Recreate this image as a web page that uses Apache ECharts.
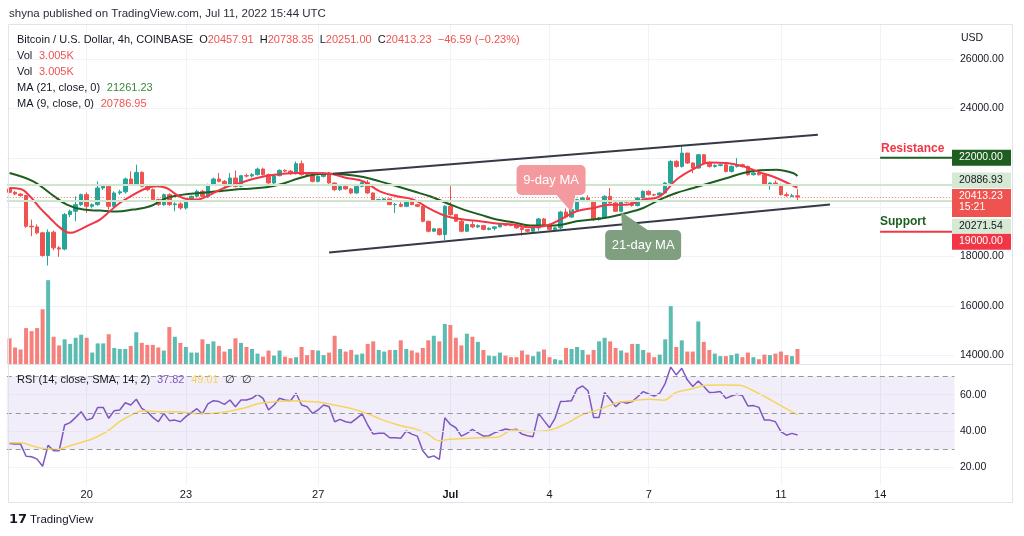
<!DOCTYPE html>
<html><head><meta charset="utf-8">
<script src="https://cdn.jsdelivr.net/npm/echarts@6/dist/echarts.min.js"></script>
<style>html,body{margin:0;padding:0;background:#fff}#c{width:1024px;height:536px}</style>
</head><body><div id="c"></div>
<script>
// ---------- DATA ----------
const startTime = Date.UTC(2022, 5, 17, 16); // first 4h candle
const NCAT = 172;
const opens = [20735,20600,20530,20470,19226,19200,18957,18041,18984,18350,
18300,19697,19832,20101,20506,20034,20100,20775,20842,20034,
20573,20620,21139,20937,21408,20842,20708,20304,20101,20506,
20101,20130,19967,20236,20438,20640,20438,20910,21139,21044,
20869,21179,20842,21273,21260,21314,21540,21314,20977,21273,
21490,21460,21354,21758,21314,21300,21044,21246,21381,20977,
20708,20842,20735,20573,20842,20990,20573,20236,20280,20330,
20101,20110,20034,20236,20101,20034,19428,19024,19120,18889,
20034,19697,19428,19024,19293,19200,19250,19100,19140,19200,
19293,19270,19260,19159,19091,19024,19159,19520,19293,19100,
19159,19800,19600,19899,20303,20371,20236,19495,19563,20438,
20169,19832,20236,20200,20061,20371,20640,20505,20490,20573,
20977,21852,21650,22189,21785,21583,22122,21785,21650,21690,
21718,21448,21650,21718,21650,21313,21381,21313,20909,20977,
20909,20505,20430,20457.91];
const highs = [20790,20650,20560,20500,19495,19300,19000,19100,19050,18420,
19765,19900,20438,20550,20600,20150,21044,20900,20880,20640,
20700,21200,21448,21718,21450,20900,20760,20350,20550,20560,
20200,20200,20280,20470,20700,20700,20950,21200,21381,21100,
21381,21480,21300,21350,21380,21600,21600,21360,21300,21530,
21530,21500,21850,21890,21420,21400,21280,21420,21420,21000,
20900,20880,20780,20880,21020,21100,20600,20340,20370,20350,
20169,20200,20260,20300,20130,20080,19450,19160,19150,20080,
20910,19720,19500,19330,19430,19300,19280,19180,19230,19330,
19320,19320,19280,19200,19110,19190,19560,19560,19330,19200,
19850,19950,19950,20340,20420,20480,20270,19600,20480,20775,
20200,20270,20280,20230,20400,20680,20680,20540,20600,21010,
21900,21900,22459,22200,21820,22160,22150,21852,21730,21760,
21760,21690,21987,21760,21680,21420,21460,21340,21010,21080,
20950,20600,20540,20738.35];
const lows = [20560,20480,20420,19160,18822,18900,17990,17636,18250,17987,
18250,19600,19428,20050,19765,19950,20050,20700,19899,19967,
20500,20550,20880,20900,20800,20650,20250,20050,20050,20050,
19832,19900,19900,20200,20400,20400,20371,20880,21000,20820,
20820,20800,20800,21200,21200,21280,21280,20950,20920,21250,
21420,21320,21320,21280,21280,21000,21000,21200,20950,20650,
20650,20700,20520,20540,20800,20540,20200,20200,20240,20080,
19765,20000,20000,20080,20000,19380,18980,18990,18850,18660,
19650,19400,18980,18990,19150,19150,19060,19060,19060,19180,
19230,19220,19120,18850,18980,18990,19050,19250,19050,19050,
19100,19550,19560,19850,20200,20200,19450,19450,19530,20120,
19800,19800,20150,20020,20030,20340,20470,20450,20450,20540,
20940,21600,21600,21750,21381,21550,21750,21600,21600,21650,
21400,21400,21600,21600,21280,21280,21280,20870,20707,20870,
20470,20420,20420,20251.00];
const closes = [20600,20530,20470,19226,19200,18957,18041,18984,18350,18300,
19697,19832,20101,20506,20034,20100,20775,20842,20034,20573,
20620,21139,20937,21408,20842,20708,20304,20101,20506,20101,
20130,19967,20236,20438,20640,20438,20910,21139,21044,20869,
21179,20842,21273,21260,21314,21540,21314,20977,21273,21490,
21460,21354,21758,21314,21300,21044,21246,21381,20977,20708,
20842,20735,20573,20842,20990,20573,20236,20304,20330,20101,
20110,20034,20236,20101,20034,19428,19024,19120,18889,20034,
19697,19428,19024,19293,19200,19250,19100,19140,19200,19293,
19270,19260,19159,19091,19024,19159,19520,19293,19100,19159,
19800,19600,19899,20303,20371,20236,19495,19563,20438,20169,
19832,20236,20200,20061,20371,20640,20505,20490,20573,20977,
21852,21650,22189,21785,21583,22122,21785,21650,21690,21718,
21448,21650,21718,21650,21313,21381,21313,20909,20977,20909,
20505,20465,20459.82,20413.23];
const volumesK = [5.1,3.3,2.9,7.1,6.5,7.1,10.8,16.5,5.4,3.7,
4.9,4.0,5.2,5.8,5.2,2.3,4.1,4.1,5.9,3.2,
3.0,3.0,3.6,6.3,4.2,3.8,3.8,3.3,2.7,7.3,
5.4,4.2,3.4,2.3,2.3,4.9,4.0,4.5,3.6,2.5,
3.0,5.1,4.2,3.4,3.0,2.1,1.5,2.7,1.7,2.7,
1.5,1.2,1.4,3.4,1.8,2.8,2.7,1.8,2.3,5.6,
3.0,2.5,2.8,1.9,2.1,4.0,4.5,2.8,2.5,2.8,
2.8,4.7,3.0,2.7,2.3,3.2,4.7,5.6,4.5,7.9,
7.7,5.2,3.7,6.0,5.4,4.4,2.8,1.7,1.6,2.3,
1.7,1.4,1.4,2.7,1.9,1.6,2.5,2.9,1.4,1.0,
0.8,3.2,3.0,3.4,2.8,1.9,2.8,4.5,5.2,4.5,
3.2,2.7,2.3,4.0,4.0,2.8,2.3,1.4,1.9,4.9,
11.4,3.4,4.7,2.5,2.5,8.4,4.4,2.8,2.1,1.6,
1.6,1.8,2.1,1.4,2.3,1.4,1.0,1.9,1.8,2.1,
2.5,1.8,1.6,3.005];
const ma9 = [[0,20775],[2,20735],[3.7,20438],[5.5,19967],[7.3,19563],[9.2,19159],[11,18957],[12.8,19091],[14.6,19293],[16.4,19495],[18.2,19832],[20,20169],[22.5,20506],[24.9,20775],[26.7,20842],[28.5,20775],[30.3,20506],[32.1,20330],[33.9,20304],[35.8,20438],[37.6,20640],[39.4,20815],[41.8,20977],[44.2,21139],[46.7,21273],[49.1,21340],[52,21381],[55.1,21381],[58.1,21354],[61.2,21179],[64.2,21044],[67.2,20640],[70.3,20438],[73.3,20304],[76.3,19926],[79.3,19630],[82.4,19495],[85.4,19428],[88.4,19334],[91.4,19293],[94.5,19186],[97.5,19253],[100,19500],[102.9,19832],[105.9,19966],[109,20101],[112,20101],[115,20303],[118,20438],[121,21112],[124.1,21543],[127.1,21812],[130.2,21785],[133.2,21650],[136.2,21408],[139.2,21179],[142.2,20869],[143,20786.95]];
const ma21 = [[0,21381],[4.3,21044],[7.3,20573],[10.4,20101],[13.4,19900],[16.4,19859],[19.4,19819],[22.4,19900],[25.5,20034],[28.5,20371],[31.5,20506],[34.6,20573],[37.6,20640],[40.6,20708],[43.6,20748],[46.6,20802],[49.4,20940],[52.4,21160],[55.1,21314],[58.1,21354],[61.2,21314],[64.2,21219],[67.2,21044],[70.3,20843],[73.3,20640],[76.3,20438],[79.3,20169],[82.4,19900],[85.4,19697],[88.4,19495],[91.4,19388],[94.5,19253],[97.5,19253],[100.2,19290],[102.9,19428],[105.9,19495],[109,19603],[112,19764],[115,19966],[118,20303],[121,20573],[124.1,20775],[127.1,20977],[130.2,21179],[133.2,21381],[136.2,21489],[139.2,21516],[142.2,21381],[143,21261.23]];
const rsi = [33.1,32.8,32.8,26.1,25.8,24.5,20.6,32.2,29.1,29.1,
43.3,44.6,47.5,50.6,46.0,47.0,53.0,53.0,47.0,51.2,
51.6,55.6,54.3,57.5,52.5,50.6,47.5,45.1,49.7,45.7,
46.0,45.1,47.9,50.1,52.3,49.4,54.9,56.7,56.2,54.7,
57.1,53.4,57.1,57.1,58.0,60.2,58.0,51.6,54.3,58.0,
57.1,56.7,60.8,54.3,53.4,49.7,51.6,54.3,53.4,45.1,
46.4,45.1,44.6,47.0,49.4,43.3,38.3,38.7,38.7,36.3,
36.3,36.0,40.0,38.3,37.2,29.1,25.4,26.3,24.3,47.3,
43.6,41.8,37.2,38.7,40.9,39.0,37.2,37.4,39.0,40.0,
41.1,40.5,40.9,38.3,37.4,36.8,49.7,45.7,41.8,47.0,
56.2,56.4,56.7,63.2,64.8,62.1,47.5,47.5,61.2,57.5,
53.4,56.2,55.3,56.2,58.9,61.7,60.4,59.3,60.8,66.3,
75.2,70.9,74.6,68.2,64.5,67.6,64.5,61.2,61.3,61.7,
58.0,59.3,60.2,59.5,53.8,54.0,53.0,46.0,46.0,45.1,
39.6,37.7,38.7,37.82];
const rsiSma = [[0,33.5],[2,33.5],[4.3,31.7],[6.1,30.4],[8.6,29.8],[10.4,31.3],[13.4,34.1],[15.2,35.9],[17.6,39.6],[20,45.1],[22.5,49.4],[24.3,51.2],[27.3,50.6],[30.3,50.6],[33.4,49.7],[36.4,49.7],[39.4,50.6],[42.4,52.5],[45.5,55.3],[48.5,56.2],[51.5,56.7],[54.5,56.2],[56.9,55.6],[58.8,54.3],[61.8,52.5],[64.8,49.7],[67.8,46.0],[70.9,43.0],[73.9,40.9],[75.7,38.7],[78.1,34.6],[79.9,35.5],[83,35.9],[86,36.3],[88.4,36.5],[91.4,40.5],[94.5,39.6],[98.1,40.5],[101.1,44.2],[104.1,49.2],[107.1,51.9],[110.2,55.6],[113.2,56.7],[116.2,57.5],[118.7,57.0],[121,61.3],[123.5,63.0],[126.5,65.2],[129.5,65.4],[132.5,65.2],[134.9,62.3],[137.3,58.6],[139.8,54.3],[143,49.01]];
const upperTrend = [[58.7,21354],[146.7,22930]];
const lowerTrend = [[58.0,18162],[148.9,20102]];
const resistanceLevel = 22000, supportLevel = 19000;
const lineLevels = [20886.93, 20271.54];
const tickIndex = [14,32,56,80,98,116,140,158];
const tickText = ['20','23','27','Jul','4','7','11','14'];

// ---------- CHART ----------
const FONT = '"Liberation Sans", Arial, sans-serif';
const TEAL = '#26a69a', RED = '#ef5350';
const cats = [];
for (let i = 0; i < NCAT; i++) {
  const d = new Date(startTime + i * 4 * 3600e3);
  cats.push(d.toISOString().slice(0, 16).replace('T', ' '));
}
const last = opens.length - 1;
const L = 6.8, R = 1024 - 954.5;
const xv = g => ({type: 'value', gridIndex: g, min: -0.5, max: NCAT - 0.5, show: false});

const chart = echarts.init(document.getElementById('c'));
chart.setOption({
  animation: false,
  backgroundColor: '#ffffff',
  textStyle: {fontFamily: FONT},
  grid: [
    {left: L, right: R, top: 59, bottom: 536 - 355.25},
    {left: L, right: R, top: 262.3, bottom: 536 - 364.3},
    {left: L, right: R, top: 358.4, bottom: 536 - 503.6},
    {left: 9.56, right: 1024 - 951.8, top: 25, bottom: 51}
  ],
  xAxis: [
    {type: 'category', gridIndex: 0, data: cats, show: false, boundaryGap: true},
    {type: 'category', gridIndex: 1, data: cats, show: false, boundaryGap: true},
    xv(2),
    {type: 'category', gridIndex: 3, data: cats, boundaryGap: false,
      axisLine: {show: false}, axisTick: {show: false},
      splitLine: {show: true, interval: (i) => tickIndex.includes(i), lineStyle: {color: '#eff2f8', width: 1}},
      axisLabel: {interval: (i) => tickIndex.includes(i), margin: 4, color: '#131722', fontSize: 11, fontFamily: FONT,
        formatter: (v, i) => { const k = tickIndex.indexOf(i); if (k < 0) return ''; return tickText[k] === 'Jul' ? '{b|Jul}' : tickText[k]; },
        rich: {b: {fontWeight: 'bold', fontSize: 11, color: '#131722', fontFamily: FONT}}}},
    xv(0)
  ],
  yAxis: [
    {type: 'value', gridIndex: 0, min: 14000, max: 26000, interval: 2000, position: 'right',
      axisLine: {show: false}, axisTick: {show: false},
      splitLine: {lineStyle: {color: '#eff2f8'}},
      axisLabel: {formatter: v => v.toFixed(2), color: '#131722', fontSize: 10.5, margin: 5.5, fontFamily: FONT}},
    {type: 'value', gridIndex: 1, min: 0, max: 20, show: false},
    {type: 'value', gridIndex: 2, min: 0, max: 80, interval: 20, position: 'right',
      axisLine: {show: false}, axisTick: {show: false}, splitLine: {show: false},
      axisLabel: {formatter: v => (v > 0 && v < 80) ? v.toFixed(2) : '', color: '#131722', fontSize: 10.5, margin: 5.5, fontFamily: FONT}},
    {type: 'value', gridIndex: 3, show: false}
  ],
  series: [
    {type: 'bar', xAxisIndex: 1, yAxisIndex: 1, barWidth: 4, silent: true,
      data: volumesK.map((v, i) => ({value: v, itemStyle: {color: closes[i] >= opens[i] ? '#5cbcb1' : '#f5807c'}}))},
    {type: 'candlestick', xAxisIndex: 0, yAxisIndex: 0, barWidth: 4, silent: true,
      data: opens.map((o, i) => [o, closes[i], lows[i], highs[i]]),
      itemStyle: {color: TEAL, color0: RED, borderColor: TEAL, borderColor0: RED, borderWidth: 1},
      markLine: {silent: true, symbol: 'none', label: {show: false}, animation: false,
        data: [
          {yAxis: lineLevels[0], lineStyle: {color: '#cfe6cd', width: 2, type: 'solid'}},
          {yAxis: lineLevels[1], lineStyle: {color: '#cfe6cd', width: 2, type: 'solid'}},
          {yAxis: closes[last], lineStyle: {color: RED, width: 1, type: [1, 2], opacity: 0.8}}
        ]}},
    {type: 'line', xAxisIndex: 4, yAxisIndex: 0, data: ma21, smooth: 0.4, showSymbol: false, silent: true,
      lineStyle: {color: '#1e5e20', width: 2}},
    {type: 'line', xAxisIndex: 4, yAxisIndex: 0, data: ma9, smooth: 0.4, showSymbol: false, silent: true,
      lineStyle: {color: '#f23645', width: 2}},
    {type: 'line', xAxisIndex: 4, yAxisIndex: 0, data: upperTrend, showSymbol: false, silent: true, clip: false,
      lineStyle: {color: '#363a45', width: 2}},
    {type: 'line', xAxisIndex: 4, yAxisIndex: 0, data: lowerTrend, showSymbol: false, silent: true, clip: false,
      lineStyle: {color: '#363a45', width: 2}},
    {type: 'line', xAxisIndex: 4, yAxisIndex: 0, data: [[158, resistanceLevel], [NCAT - 0.5, resistanceLevel]], showSymbol: false, silent: true,
      lineStyle: {color: '#1e5e20', width: 2}},
    {type: 'line', xAxisIndex: 4, yAxisIndex: 0, data: [[158, supportLevel], [NCAT - 0.5, supportLevel]], showSymbol: false, silent: true,
      lineStyle: {color: '#f23645', width: 2}},
    {type: 'line', xAxisIndex: 2, yAxisIndex: 2, data: rsi.map((v, i) => [i, v]), showSymbol: false, silent: true, clip: false,
      lineStyle: {color: '#7e57c2', width: 1.5},
      markArea: {silent: true, itemStyle: {color: 'rgba(126,87,194,0.1)'}, data: [[{yAxis: 30}, {yAxis: 70}]]},
      markLine: {silent: true, symbol: 'none', label: {show: false},
        data: [
          {yAxis: 20, lineStyle: {color: '#eff2f8', width: 1, type: 'solid'}},
          {yAxis: 40, lineStyle: {color: '#e9e6f3', width: 1, type: 'solid'}},
          {yAxis: 60, lineStyle: {color: '#e9e6f3', width: 1, type: 'solid'}},
          {yAxis: 70, lineStyle: {color: '#9598a1', width: 1, type: [5, 4]}},
          {yAxis: 50, lineStyle: {color: '#9598a1', width: 1, type: [5, 4]}},
          {yAxis: 30, lineStyle: {color: '#9598a1', width: 1, type: [5, 4]}}
        ]}},
    {type: 'line', xAxisIndex: 2, yAxisIndex: 2, data: rsiSma, smooth: 0.4, showSymbol: false, silent: true, clip: false,
      lineStyle: {color: '#f5d55f', width: 1.5}}
  ]
});

// ---------- OVERLAYS (text, tags, callouts) ----------
const py = v => chart.convertToPixel({yAxisIndex: 0}, v);
const px = i => chart.convertToPixel({xAxisIndex: 4}, i);
const T = (x, y, text, o = {}) => ({type: 'text', x, y, z: 100, silent: true,
  style: Object.assign({text, fill: '#131722', font: `11px ${FONT}`, textVerticalAlign: 'middle', textAlign: 'left'}, o)});

const g = [];
// frame + separator
g.push({type: 'rect', z: 90, silent: true, shape: {x: 8.5, y: 24.5, width: 1004, height: 478}, style: {fill: null, stroke: '#e0e3eb', lineWidth: 1}});
g.push({type: 'line', z: 90, silent: true, shape: {x1: 8.5, y1: 364.5, x2: 1012.5, y2: 364.5}, style: {stroke: '#e0e3eb', lineWidth: 1}});
// publish line
g.push(T(9, 14, 'shyna published on TradingView.com, Jul 11, 2022 15:44 UTC', {font: `11.5px ${FONT}`, fill: '#2a2e39'}));
// legend
g.push({type: 'text', x: 17, y: 40, z: 100, silent: true, style: {
  text: `{t|Bitcoin / U.S. Dollar, 4h, COINBASE}  {t|O}{v|${opens[last].toFixed(2)}}  {t|H}{v|${highs[last].toFixed(2)}}  {t|L}{v|${lows[last].toFixed(2)}}  {t|C}{v|${closes[last].toFixed(2)}}  {v|−${(closes[last - 1] - closes[last]).toFixed(2)} (−${((closes[last - 1] - closes[last]) / closes[last - 1] * 100).toFixed(2)}%)}`,
  textVerticalAlign: 'middle', font: `11px ${FONT}`,
  rich: {t: {fill: '#131722', font: `11px ${FONT}`}, v: {fill: RED, font: `11px ${FONT}`}}}});
const volTxt = `{t|Vol}  {v|${volumesK[last].toFixed(3)}K}`;
[56, 72].forEach(y => g.push({type: 'text', x: 17, y, z: 100, silent: true, style: {text: volTxt, textVerticalAlign: 'middle',
  rich: {t: {fill: '#131722', font: `11px ${FONT}`}, v: {fill: RED, font: `11px ${FONT}`}}}}));
g.push({type: 'text', x: 17, y: 88, z: 100, silent: true, style: {text: `{t|MA (21, close, 0)}  {v|${ma21[ma21.length - 1][1].toFixed(2)}}`, textVerticalAlign: 'middle',
  rich: {t: {fill: '#131722', font: `11px ${FONT}`}, v: {fill: '#3a8a3e', font: `11px ${FONT}`}}}});
g.push({type: 'text', x: 17, y: 104, z: 100, silent: true, style: {text: `{t|MA (9, close, 0)}  {v|${ma9[ma9.length - 1][1].toFixed(2)}}`, textVerticalAlign: 'middle',
  rich: {t: {fill: '#131722', font: `11px ${FONT}`}, v: {fill: RED, font: `11px ${FONT}`}}}});
g.push(T(961, 38, 'USD', {font: `10.5px ${FONT}`}));
// RSI legend
g.push({type: 'text', x: 17, y: 380, z: 100, silent: true, style: {
  text: `{t|RSI (14, close, SMA, 14, 2)}  {p|${rsi[last].toFixed(2)}}  {y|${rsiSma[rsiSma.length - 1][1].toFixed(2)}}  {t|∅}  {t|∅}`, textVerticalAlign: 'middle',
  rich: {t: {fill: '#131722', font: `11px ${FONT}`}, p: {fill: '#7e57c2', font: `11px ${FONT}`}, y: {fill: '#f5d55f', font: `11px ${FONT}`}}}});

// price tags on the axis
const tag = (value, lines, bg, fg, dy, h) => {
  const yc = py(value) + dy;
  g.push({type: 'rect', z: 95, silent: true, shape: {x: 952, y: yc - h / 2, width: 59, height: h}, style: {fill: bg}});
  lines.forEach((t, k) => g.push(T(959, yc - h / 2 + 7.5 + k * 11, t, {fill: fg, font: `10.5px ${FONT}`})));
};
tag(resistanceLevel, [resistanceLevel.toFixed(2)], '#1e5e20', '#ffffff', 0, 16);
tag(lineLevels[0], [lineLevels[0].toFixed(2)], '#d5e9d3', '#131722', -5, 15.5);
tag(closes[last], [closes[last].toFixed(2), '15:21'], '#ef5350', '#ffffff', 6, 28);
tag(lineLevels[1], [lineLevels[1].toFixed(2)], '#d5e9d3', '#131722', 25.5, 14.5);
tag(supportLevel, [supportLevel.toFixed(2)], '#f23645', '#ffffff', 10, 16);
g.push(T(881, py(resistanceLevel) - 9, 'Resistance', {fill: '#f23645', font: `bold 12px ${FONT}`}));
g.push(T(880, py(supportLevel) - 10, 'Support', {fill: '#1e5e20', font: `bold 12px ${FONT}`}));

// callouts
const tip9 = [px(102), py(19800)], tip21 = [px(111), py(19800)];
g.push({type: 'polygon', z: 96, silent: true, shape: {points: [[tip9[0] - 16, tip9[1] - 18], [tip9[0] + 4, tip9[1] - 18], [tip9[0], tip9[1]]]}, style: {fill: '#f49a9e'}});
g.push({type: 'rect', z: 96, silent: true, shape: {x: tip9[0] - 55, y: tip9[1] - 47, width: 69, height: 30, r: 5}, style: {fill: '#f49a9e'}});
g.push(T(tip9[0] - 20.5, tip9[1] - 32, '9-day MA', {fill: '#ffffff', font: `13px ${FONT}`, textAlign: 'center'}));
g.push({type: 'polygon', z: 96, silent: true, shape: {points: [[tip21[0] + 1, tip21[1] + 19], [tip21[0] + 28, tip21[1] + 19], [tip21[0], tip21[1]]]}, style: {fill: '#7f9f80'}});
g.push({type: 'rect', z: 96, silent: true, shape: {x: tip21[0] - 16, y: tip21[1] + 18, width: 76, height: 30, r: 5}, style: {fill: '#7f9f80'}});
g.push(T(tip21[0] + 22, tip21[1] + 33, '21-day MA', {fill: '#ffffff', font: `13px ${FONT}`, textAlign: 'center'}));

// logo
g.push(T(9, 520, '17', {font: `900 13px "DejaVu Sans", ${FONT}`, fill: '#131722'}));
g.push(T(30, 520, 'TradingView', {font: `11.5px ${FONT}`, fill: '#131722'}));

chart.setOption({graphic: {elements: g}});
</script></body></html>
